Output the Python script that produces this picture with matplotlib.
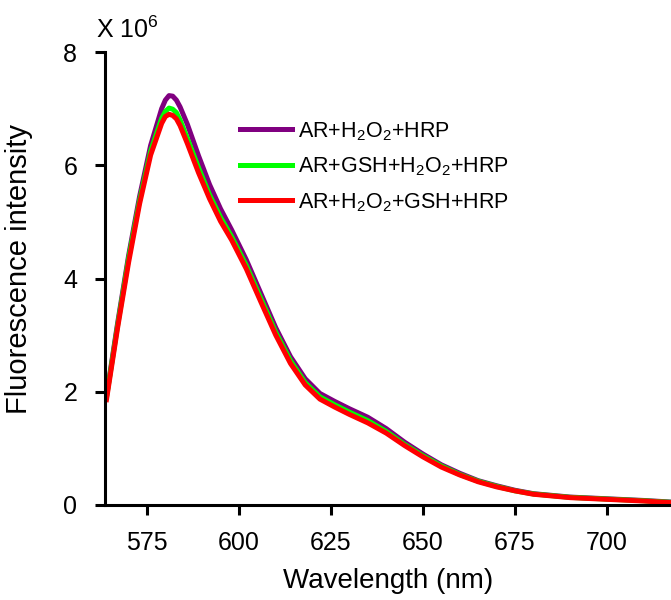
import numpy as np
import matplotlib
matplotlib.use('Agg')
import matplotlib.pyplot as plt

plt.rcParams['font.family'] = ['Liberation Sans', 'DejaVu Sans']
plt.rcParams['mathtext.default'] = 'regular'

# emission spectra, intensity in units of 10^6
wavelength = [564, 567, 570, 573, 576, 579, 580, 581, 582, 583, 584, 586, 589,
              592, 595, 598, 602, 606, 610, 614, 618, 622, 626, 630, 635, 640,
              645, 650, 655, 660, 665, 670, 675, 680, 690, 700, 710, 718]
ar_h2o2_hrp = [1.92, 3.20, 4.40, 5.45, 6.35, 7.00, 7.15, 7.23, 7.22, 7.15, 7.03,
               6.72, 6.17, 5.66, 5.23, 4.86, 4.33, 3.73, 3.13, 2.62, 2.23, 1.97,
               1.83, 1.70, 1.55, 1.35, 1.11, 0.90, 0.71, 0.56, 0.43, 0.34, 0.26,
               0.20, 0.14, 0.11, 0.08, 0.05]
ar_gsh_h2o2_hrp = [1.90, 3.16, 4.35, 5.38, 6.25, 6.83, 6.95, 7.01, 6.99, 6.93,
                   6.80, 6.47, 5.96, 5.48, 5.08, 4.74, 4.23, 3.64, 3.05, 2.55,
                   2.16, 1.91, 1.77, 1.64, 1.49, 1.30, 1.07, 0.87, 0.69, 0.54,
                   0.42, 0.33, 0.25, 0.195, 0.135, 0.105, 0.075, 0.045]
ar_h2o2_gsh_hrp = [1.86, 3.12, 4.28, 5.32, 6.18, 6.74, 6.86, 6.90, 6.88, 6.82,
                   6.70, 6.38, 5.87, 5.41, 5.01, 4.68, 4.17, 3.58, 3.00, 2.50,
                   2.12, 1.87, 1.73, 1.60, 1.45, 1.27, 1.05, 0.85, 0.67, 0.53,
                   0.41, 0.32, 0.25, 0.19, 0.13, 0.10, 0.07, 0.04]

labels = ['AR+H$_2$O$_2$+HRP', 'AR+GSH+H$_2$O$_2$+HRP', 'AR+H$_2$O$_2$+GSH+HRP']
colors = ['#800080', '#00ff00', '#ff0000']

fig = plt.figure(figsize=(6.71, 6.0), dpi=100)
ax = fig.add_axes([105 / 671, 95 / 600, 566 / 671, 453 / 600])

for y, lab, c in zip([ar_h2o2_hrp, ar_gsh_h2o2_hrp, ar_h2o2_gsh_hrp], labels, colors):
    ax.plot(wavelength, y, color=c, lw=3.6, label=lab, solid_joinstyle='round')

ax.set_xlim(563.6, 717.4)
ax.set_ylim(0, 8)
ax.set_xticks([575, 600, 625, 650, 675, 700])
ax.set_yticks([0, 2, 4, 6, 8])

for s in ['top', 'right']:
    ax.spines[s].set_visible(False)
for s in ['left', 'bottom']:
    ax.spines[s].set_linewidth(2.2)
ax.tick_params(direction='out', length=7, width=2.2, labelsize=18)
ax.tick_params(axis='x', pad=12)
ax.tick_params(axis='y', pad=13)

ax.set_xlabel('Wavelength (nm)', fontsize=20)
ax.set_ylabel('Fluorescence intensity', fontsize=21)
ax.xaxis.set_label_coords(0.5, -0.14)
ax.yaxis.set_label_coords(-0.128, 0.52)
fig.text(96 / 671, 1 - 38 / 600, 'X 10$^6$', fontsize=18, va='baseline')

ax.legend(loc='upper left', bbox_to_anchor=(0.238, 0.85), frameon=False,
          fontsize=15.5, handlelength=2.45, handletextpad=0.25, labelspacing=0.6,
          borderpad=0, borderaxespad=0)

fig.savefig('out.png', dpi=100)
